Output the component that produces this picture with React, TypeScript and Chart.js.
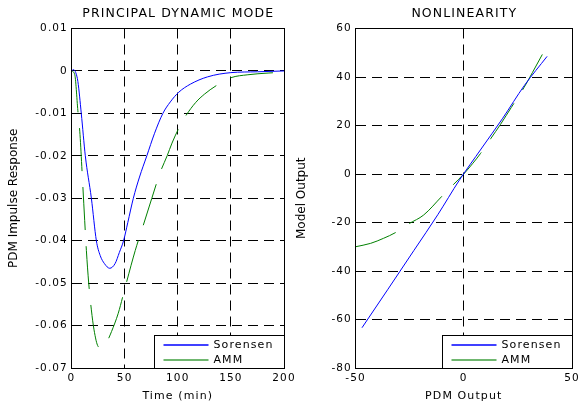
import React, { useEffect, useRef } from 'react';
import { Chart, registerables } from 'chart.js';

Chart.register(...registerables);

// ---------------- data ----------------
const pdmTitle = 'PRINCIPAL DYNAMIC MODE';
const nlTitle = 'NONLINEARITY';
const seriesNames = ['Sorensen', 'AMM'];

const sorensenPdmTime = [0, 2, 4, 6, 9.2, 13, 18.7, 23.4, 27, 31, 36, 41, 45, 49, 53, 58.2, 64, 70.9, 78, 86, 93, 101, 112, 128, 150, 175, 200];
const sorensenPdmValue = [0, 0.0003, -0.0004, -0.0025, -0.01, -0.02, -0.03, -0.04, -0.0435, -0.0454, -0.0465, -0.0454, -0.0428, -0.04, -0.0357, -0.03, -0.025, -0.02, -0.0148, -0.01, -0.0073, -0.005, -0.0031, -0.0014, -0.0004, -0.0002, 0];

const ammPdmTime = [0, 3, 6, 8, 10, 12.4, 14, 16.2, 18.7, 21.2, 25, 28.2, 30.7, 34, 37.7, 44, 50.3, 60, 67, 75.6, 83.5, 90, 94.6, 101, 107.5, 117, 125, 136, 150, 166, 185, 200];
const ammPdmValue = [0, -0.0008, -0.0094, -0.015, -0.024, -0.0352, -0.0423, -0.05, -0.0563, -0.061, -0.0649, -0.0653, -0.0648, -0.0635, -0.0614, -0.0571, -0.0512, -0.0423, -0.0368, -0.03, -0.0239, -0.02, -0.017, -0.0135, -0.0106, -0.0074, -0.0055, -0.0035, -0.0016, -0.0009, -0.0005, -0.0003];

const sorensenNlInput = [-47, -35, -23, -12, -2, 8, 18, 28, 38.5];
const sorensenNlOutput = [-63.4, -47.5, -31.5, -16.8, -2.5, 10.3, 23, 36.5, 48.5];

const ammNlInput = [-50, -43, -37, -31.6, -25.5, -18.5, -10, -4.6, 0, 4, 7.7, 12.4, 17, 22, 27.8, 31.7, 36.3];
const ammNlOutput = [-30, -28.6, -26.5, -24.2, -20.6, -16.9, -9.1, -4.2, 0, 4.2, 8.4, 14.5, 20.5, 27.5, 35.6, 41.8, 49.3];

const pdmTimeTicks = [0, 50, 100, 150, 200];
const pdmTimeTickLabels = ['0', '50', '100', '150', '200'];
const pdmValueTicks = [-0.07, -0.06, -0.05, -0.04, -0.03, -0.02, -0.01, 0, 0.01];
const pdmValueTickLabels = ['-0.07', '-0.06', '-0.05', '-0.04', '-0.03', '-0.02', '-0.01', '0', '0.01'];
const nlInputTicks = [-50, 0, 50];
const nlInputTickLabels = ['-50', '0', '50'];
const nlOutputTicks = [-80, -60, -40, -20, 0, 20, 40, 60];
const nlOutputTickLabels = ['-80', '-60', '-40', '-20', '0', '20', '40', '60'];

// ---------------- styling ----------------
const FONT = '"DejaVu Sans", "Liberation Sans", sans-serif';
const LETTER = 1.1;
const TICK_SIZE = 10.5;
const BLUE = '#0000ff';
const GREEN = '#008000';
const GREEN_LEGEND = '#3f9f3f';

Chart.defaults.font.family = FONT;
Chart.defaults.font.size = TICK_SIZE;
Chart.defaults.color = '#000';

const zip = (xs: number[], ys: number[]) => xs.map((x, i) => ({ x, y: ys[i] }));

const spacingPlugin = {
  id: 'letterSpacing',
  beforeUpdate(chart: any) { (chart.ctx as any).letterSpacing = LETTER + 'px'; },
  beforeLayout(chart: any) { (chart.ctx as any).letterSpacing = LETTER + 'px'; },
  beforeDraw(chart: any) { (chart.ctx as any).letterSpacing = LETTER + 'px'; },
};

const align = (p: number) => Math.round(p - 0.5) + 0.5;

function decorPlugin(title: string, yTitle: string, yTitleX: number) {
  return {
    id: 'decor',
    afterDraw(chart: any) {
      const { ctx, chartArea: a } = chart;
      const L = align(a.left), R = align(a.right), T = align(a.top), B = align(a.bottom);
      ctx.save();
      ctx.setLineDash([]);
      // legend box
      const bw = 130, bh = 33;
      const bx = R - bw, by = B - bh;
      ctx.fillStyle = '#fff';
      ctx.fillRect(bx, by, bw, bh);
      ctx.strokeStyle = '#000';
      ctx.lineWidth = 1;
      ctx.strokeRect(bx, by, bw, bh);
      const ds = chart.data.datasets;
      const rows = [by + 9.5, by + 24.5];
      ds.forEach((d: any, i: number) => {
        ctx.beginPath();
        ctx.strokeStyle = i === 0 ? d.borderColor : GREEN_LEGEND;
        ctx.lineWidth = 1.5;
        ctx.moveTo(bx + 9, Math.round(rows[i]));
        ctx.lineTo(bx + 54, Math.round(rows[i]));
        ctx.stroke();
        ctx.fillStyle = '#000';
        ctx.font = '11px ' + FONT;
        ctx.textAlign = 'left';
        ctx.textBaseline = 'middle';
        ctx.fillText(d.label, bx + 59, rows[i] + 0.5);
      });
      // frame
      ctx.strokeStyle = '#000';
      ctx.lineWidth = 1;
      ctx.strokeRect(L, T, R - L, B - T);
      // title
      ctx.fillStyle = '#000';
      ctx.font = '12.5px ' + FONT;
      ctx.textAlign = 'center';
      ctx.textBaseline = 'middle';
      ctx.fillText(title, (a.left + a.right) / 2 + LETTER / 2, 14);
      // y title
      (ctx as any).letterSpacing = '0px';
      ctx.font = '12px ' + FONT;
      ctx.translate(yTitleX, (a.top + a.bottom) / 2);
      ctx.rotate(-Math.PI / 2);
      ctx.fillText(yTitle, 0, 0);
      ctx.restore();
    },
  };
}

function makeAxis(ticks: number[], labels: string[], fit: (s: any) => void, title?: string, tickPadding = 4) {
  return {
    type: 'linear',
    min: ticks[0],
    max: ticks[ticks.length - 1],
    afterBuildTicks: (s: any) => { s.ticks = ticks.map((v) => ({ value: v })); },
    afterFit: fit,
    ticks: {
      autoSkip: false,
      maxRotation: 0,
      padding: tickPadding,
      color: '#000',
      font: { size: TICK_SIZE, family: FONT },
      callback: (v: number) => {
        const i = ticks.findIndex((t) => Math.abs(t - v) < 1e-9);
        return i >= 0 ? labels[i] : '';
      },
    },
    grid: { color: '#000', lineWidth: 1, drawTicks: false },
    border: { display: false, dash: [10, 6] },
    title: title
      ? { display: true, text: title, color: '#000', font: { size: 11, family: FONT }, padding: { top: 0, bottom: 6 } }
      : { display: false },
  };
}

function lineSet(label: string, data: any[], color: string, dashed: boolean) {
  return {
    label,
    data,
    showLine: true,
    borderColor: color,
    backgroundColor: color,
    borderWidth: 1,
    pointRadius: 0,
    pointHoverRadius: 0,
    fill: false,
    cubicInterpolationMode: 'monotone',
    borderDash: dashed ? [43, 16] : [],
  };
}

function pdmConfig(): any {
  return {
    type: 'scatter',
    data: {
      datasets: [
        lineSet(seriesNames[0], zip(sorensenPdmTime, sorensenPdmValue), BLUE, false),
        lineSet(seriesNames[1], zip(ammPdmTime, ammPdmValue), GREEN, true),
      ],
    },
    options: {
      animation: false,
      responsive: false,
      devicePixelRatio: 1,
      events: [],
      layout: { padding: { left: 0, top: 28.5, right: 36, bottom: 0 } },
      plugins: { legend: { display: false }, tooltip: { enabled: false }, title: { display: false } },
      scales: {
        x: makeAxis(pdmTimeTicks, pdmTimeTickLabels, (s: any) => { s.height = 41; }, 'Time (min)', 4),
        y: makeAxis(pdmValueTicks, pdmValueTickLabels, (s: any) => { s.width = 71.5; }, undefined, 3.6),
      },
    },
    plugins: [spacingPlugin, decorPlugin(pdmTitle, 'PDM Impulse Response', 14)],
  };
}

function nlConfig(): any {
  return {
    type: 'scatter',
    data: {
      datasets: [
        lineSet(seriesNames[0], zip(sorensenNlInput, sorensenNlOutput), BLUE, false),
        lineSet(seriesNames[1], zip(ammNlInput, ammNlOutput), GREEN, true),
      ],
    },
    options: {
      animation: false,
      responsive: false,
      devicePixelRatio: 1,
      events: [],
      layout: { padding: { left: 0, top: 28.5, right: 28, bottom: 0 } },
      plugins: { legend: { display: false }, tooltip: { enabled: false }, title: { display: false } },
      scales: {
        x: makeAxis(nlInputTicks, nlInputTickLabels, (s: any) => { s.height = 41; }, 'PDM Output', 4),
        y: makeAxis(nlOutputTicks, nlOutputTickLabels, (s: any) => { s.width = 65.5; }, undefined, 3.6),
      },
    },
    plugins: [spacingPlugin, decorPlugin(nlTitle, 'Model Output', 11.7)],
  };
}

function Plot({ make, left, width }: { make: () => any; left: number; width: number }) {
  const ref = useRef<HTMLCanvasElement | null>(null);
  useEffect(() => {
    if (!ref.current) return;
    const chart = new Chart(ref.current, make());
    return () => chart.destroy();
  }, []);
  return (
    <canvas
      ref={ref}
      width={width}
      height={409}
      style={{ position: 'absolute', left, top: 0, width, height: 409 }}
    />
  );
}

export default function App() {
  return (
    <div
      style={{
        position: 'fixed',
        left: 0,
        top: 0,
        width: 579,
        height: 409,
        overflow: 'hidden',
        background: '#fff',
      }}
    >
      <Plot make={pdmConfig} left={0} width={320} />
      <Plot make={nlConfig} left={290} width={310} />
    </div>
  );
}
